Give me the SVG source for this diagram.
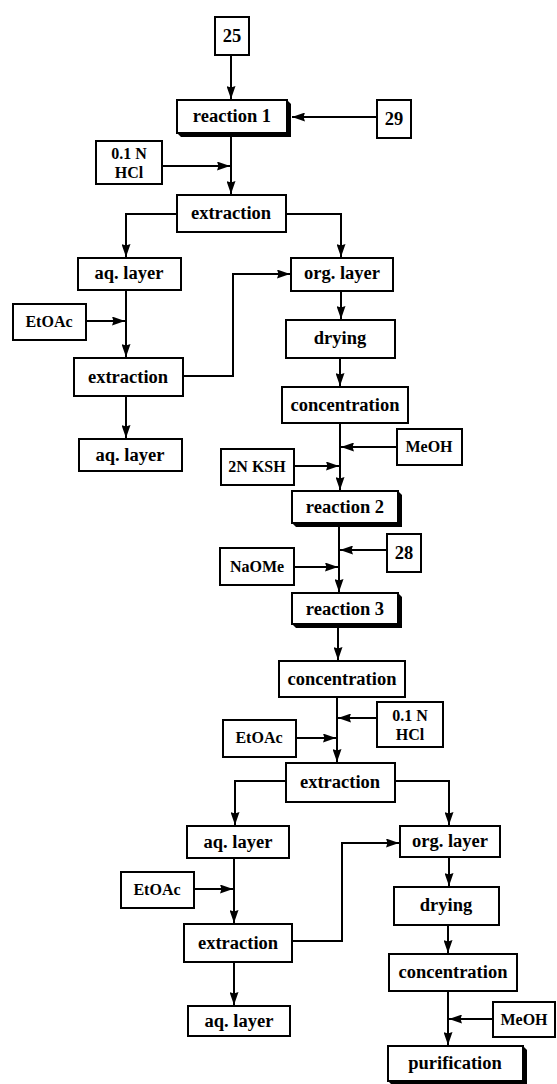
<svg xmlns="http://www.w3.org/2000/svg" width="557" height="1084" viewBox="0 0 557 1084">
<style>
rect.b{fill:#fff;stroke:#000;stroke-width:2}
polygon.sh{fill:#000}
text{font-family:"Liberation Serif","Times New Roman",serif;font-weight:bold;fill:#000;text-anchor:middle}
text.m{font-size:18.5px}
text.s{font-size:16px}
#connectors path,#connectors line{stroke:#000;stroke-width:2;fill:none}
</style>
<defs>
<marker id="ah" viewBox="0 0 13 9" refX="13" refY="4.5" markerWidth="13" markerHeight="9" markerUnits="userSpaceOnUse" orient="auto">
<path d="M0,0 L13,4.5 L0,9 L1.5,4.5 Z" fill="#000"/>
</marker>
</defs>
<rect width="557" height="1084" fill="#fff"/>
<g id="connectors">
<line x1="231" y1="55" x2="231" y2="99" marker-end="url(#ah)"/>
<line x1="377" y1="117" x2="292" y2="117" marker-end="url(#ah)"/>
<line x1="231" y1="137" x2="231" y2="194" marker-end="url(#ah)"/>
<line x1="162" y1="166" x2="230" y2="166" marker-end="url(#ah)"/>
<path d="M177,214 H126 V257" marker-end="url(#ah)"/>
<path d="M286,214 H341 V257" marker-end="url(#ah)"/>
<line x1="126" y1="290" x2="126" y2="357" marker-end="url(#ah)"/>
<line x1="86" y1="321" x2="125" y2="321" marker-end="url(#ah)"/>
<line x1="126" y1="396" x2="126" y2="438" marker-end="url(#ah)"/>
<path d="M183,376 H233 V274 H290" marker-end="url(#ah)"/>
<line x1="341" y1="291" x2="341" y2="319" marker-end="url(#ah)"/>
<line x1="340" y1="358" x2="340" y2="386" marker-end="url(#ah)"/>
<line x1="340" y1="423" x2="340" y2="490" marker-end="url(#ah)"/>
<line x1="397" y1="447" x2="341" y2="447" marker-end="url(#ah)"/>
<line x1="294" y1="466" x2="339" y2="466" marker-end="url(#ah)"/>
<line x1="339" y1="527" x2="339" y2="592" marker-end="url(#ah)"/>
<line x1="387" y1="550" x2="340" y2="550" marker-end="url(#ah)"/>
<line x1="294" y1="567" x2="338" y2="567" marker-end="url(#ah)"/>
<line x1="338" y1="628" x2="338" y2="660" marker-end="url(#ah)"/>
<line x1="337" y1="697" x2="337" y2="762" marker-end="url(#ah)"/>
<line x1="377" y1="718" x2="338" y2="718" marker-end="url(#ah)"/>
<line x1="296" y1="738" x2="336" y2="738" marker-end="url(#ah)"/>
<path d="M286,781 H235 V825" marker-end="url(#ah)"/>
<path d="M395,781 H449 V825" marker-end="url(#ah)"/>
<line x1="234" y1="858" x2="234" y2="923" marker-end="url(#ah)"/>
<line x1="194" y1="889" x2="233" y2="889" marker-end="url(#ah)"/>
<line x1="234" y1="962" x2="234" y2="1005" marker-end="url(#ah)"/>
<path d="M292,941 H342 V843 H399" marker-end="url(#ah)"/>
<line x1="449" y1="857" x2="449" y2="886" marker-end="url(#ah)"/>
<line x1="448" y1="925" x2="448" y2="953" marker-end="url(#ah)"/>
<line x1="448" y1="991" x2="448" y2="1045" marker-end="url(#ah)"/>
<line x1="493" y1="1019" x2="449" y2="1019" marker-end="url(#ah)"/>
</g>
<g id="n25"><rect class="b" x="215" y="17" width="34" height="38"/><text class="m" x="232" y="42">25</text></g>
<g id="reaction1"><polygon class="sh" points="287,100 291,104 291,137 181,137 177,133"/><rect class="b" x="177" y="100" width="110" height="33"/><text class="m" x="232" y="122">reaction 1</text></g>
<g id="n29"><rect class="b" x="377" y="100" width="34" height="38"/><text class="m" x="394" y="125">29</text></g>
<g id="hcl1"><rect class="b" x="96" y="141" width="66" height="43"/><text class="s" x="129" y="159">0.1 N</text><text class="s" x="129" y="178">HCl</text></g>
<g id="extraction1"><rect class="b" x="177" y="195" width="109" height="37"/><text class="m" x="231" y="219">extraction</text></g>
<g id="aq1"><rect class="b" x="78" y="258" width="103" height="32"/><text class="m" x="129" y="279">aq. layer</text></g>
<g id="org1"><rect class="b" x="291" y="258" width="102" height="33"/><text class="m" x="342" y="279">org. layer</text></g>
<g id="etoac1"><rect class="b" x="13" y="304" width="73" height="36"/><text class="s" x="49" y="327">EtOAc</text></g>
<g id="extraction2"><rect class="b" x="74" y="358" width="109" height="38"/><text class="m" x="128" y="383">extraction</text></g>
<g id="aq2"><rect class="b" x="79" y="439" width="103" height="32"/><text class="m" x="130" y="461">aq. layer</text></g>
<g id="drying1"><rect class="b" x="286" y="320" width="109" height="38"/><text class="m" x="340" y="344">drying</text></g>
<g id="concentration1"><rect class="b" x="282" y="387" width="126" height="36"/><text class="m" x="345" y="411">concentration</text></g>
<g id="meoh1"><rect class="b" x="397" y="429" width="65" height="36"/><text class="s" x="429" y="452">MeOH</text></g>
<g id="ksh"><rect class="b" x="221" y="449" width="73" height="36"/><text class="s" x="257" y="472">2N KSH</text></g>
<g id="reaction2"><polygon class="sh" points="398,491 402,495 402,527 296,527 292,523"/><rect class="b" x="292" y="491" width="106" height="32"/><text class="m" x="345" y="513">reaction 2</text></g>
<g id="n28"><rect class="b" x="387" y="534" width="34" height="38"/><text class="m" x="404" y="559">28</text></g>
<g id="naome"><rect class="b" x="220" y="548" width="74" height="37"/><text class="s" x="257" y="572">NaOMe</text></g>
<g id="reaction3"><polygon class="sh" points="398,593 402,597 402,628 296,628 292,624"/><rect class="b" x="292" y="593" width="106" height="31"/><text class="m" x="345" y="615">reaction 3</text></g>
<g id="concentration2"><rect class="b" x="279" y="661" width="126" height="36"/><text class="m" x="342" y="685">concentration</text></g>
<g id="hcl2"><rect class="b" x="377" y="702" width="66" height="45"/><text class="s" x="410" y="721">0.1 N</text><text class="s" x="410" y="740">HCl</text></g>
<g id="etoac2"><rect class="b" x="223" y="720" width="73" height="37"/><text class="s" x="259" y="743">EtOAc</text></g>
<g id="extraction3"><rect class="b" x="286" y="763" width="109" height="39"/><text class="m" x="340" y="788">extraction</text></g>
<g id="aq3"><rect class="b" x="187" y="826" width="102" height="32"/><text class="m" x="238" y="848">aq. layer</text></g>
<g id="org2"><rect class="b" x="400" y="826" width="100" height="31"/><text class="m" x="450" y="847">org. layer</text></g>
<g id="etoac3"><rect class="b" x="121" y="872" width="73" height="36"/><text class="s" x="157" y="895">EtOAc</text></g>
<g id="extraction4"><rect class="b" x="184" y="924" width="108" height="38"/><text class="m" x="238" y="949">extraction</text></g>
<g id="aq4"><rect class="b" x="188" y="1006" width="102" height="30"/><text class="m" x="239" y="1027">aq. layer</text></g>
<g id="drying2"><rect class="b" x="394" y="887" width="105" height="38"/><text class="m" x="446" y="911">drying</text></g>
<g id="concentration3"><rect class="b" x="389" y="954" width="128" height="37"/><text class="m" x="453" y="978">concentration</text></g>
<g id="meoh2"><rect class="b" x="493" y="1002" width="62" height="35"/><text class="s" x="524" y="1025">MeOH</text></g>
<g id="purification"><polygon class="sh" points="523,1046 527,1050 527,1085 392,1085 388,1081"/><rect class="b" x="388" y="1046" width="135" height="35"/><text class="m" x="455" y="1069">purification</text></g>
</svg>
